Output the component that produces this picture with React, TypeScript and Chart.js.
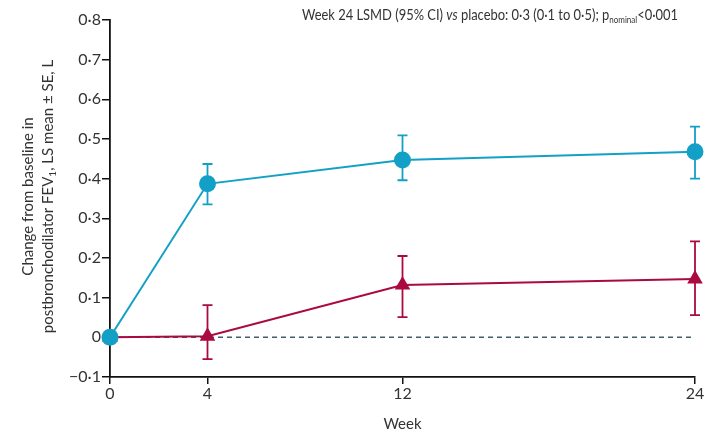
import React, { useEffect, useRef } from 'react';
import { Chart, registerables } from 'chart.js';

Chart.register(...registerables);

// ---- data ----
const weeks = [0, 4, 12, 24];
const xTicks = [0, 4, 12, 24];
const yTicks = [-0.1, 0, 0.1, 0.2, 0.3, 0.4, 0.5, 0.6, 0.7, 0.8];

const dupMean = [0, 0.387, 0.447, 0.468];
const dupUpper = [0, 0.437, 0.509, 0.531];
const dupLower = [0, 0.335, 0.396, 0.4];

const pboMean = [0, 0.003, 0.132, 0.147];
const pboUpper = [0.015, 0.081, 0.205, 0.242];
const pboLower = [-0.015, -0.055, 0.051, 0.056];

const zeroLine = [0, 0];
const zeroX = [0, 24];

const BLUE = '#12a0c6';
const RED = '#ab0a40';
const TEXT = '#333333';
const FONT = 'Lato, "Open Sans", sans-serif';

const fmt = (v: number) => {
  if (Math.abs(v) < 1e-9) return '0';
  const s = Math.abs(v).toFixed(1).replace('.', '·');
  return v < 0 ? '−' + s : s;
};

const errorBarPlugin = {
  id: 'errbars',
  beforeDatasetsDraw(chart: any) {
    const { ctx, scales } = chart;
    const x = scales.x;
    const y = scales.y;
    const draw = (lo: number[], hi: number[], color: string) => {
      ctx.save();
      ctx.strokeStyle = color;
      ctx.lineWidth = 1.8;
      weeks.forEach((w, i) => {
        if (hi[i] === lo[i]) return;
        const px = x.getPixelForValue(w);
        const t = y.getPixelForValue(hi[i]);
        const b = y.getPixelForValue(lo[i]);
        ctx.beginPath();
        ctx.moveTo(px, t);
        ctx.lineTo(px, b);
        ctx.moveTo(px - 5, t);
        ctx.lineTo(px + 5, t);
        ctx.moveTo(px - 5, b);
        ctx.lineTo(px + 5, b);
        ctx.stroke();
      });
      ctx.restore();
    };
    draw(pboLower, pboUpper, RED);
    draw(dupLower, dupUpper, BLUE);
  },
};

const textPlugin = {
  id: 'texts',
  afterDraw(chart: any) {
    const { ctx, chartArea } = chart;
    ctx.save();
    ctx.fillStyle = TEXT;
    ctx.textBaseline = 'alphabetic';
    ctx.textAlign = 'left';

    // annotation, fitted horizontally to the span it takes in the figure
    const segDefs: [string, string, number, number][] = [
      ['Week 24 LSMD (95% CI) ', '', 1, 0],
      ['vs', 'italic ', 1, 0],
      [' placebo: 0·3 (0·1 to 0·5); p', '', 1, 0],
      ['nominal', '', 0.62, 3],
      ['<0·001', '', 1, 0],
    ];
    const size = 15;
    let tot = 0;
    segDefs.forEach(([t, st, k]) => {
      ctx.font = `${st}${size * k}px ${FONT}`;
      tot += ctx.measureText(t).width;
    });
    const sx = Math.min(1, 376 / tot);
    ctx.save();
    ctx.translate(302, 20);
    ctx.scale(sx, 1);
    let cx = 0;
    segDefs.forEach(([t, st, k, dy]) => {
      ctx.font = `${st}${size * k}px ${FONT}`;
      ctx.fillText(t, cx, dy);
      cx += ctx.measureText(t).width;
    });
    ctx.restore();

    // y-axis title
    const big = `15px ${FONT}`;
    const small = `10px ${FONT}`;
    const cy = (chartArea.top + chartArea.bottom) / 2 - 2;
    ctx.translate(0, cy);
    ctx.rotate(-Math.PI / 2);
    ctx.font = big;
    ctx.textAlign = 'center';
    ctx.fillText('Change from baseline in', 0, 33);
    const l2: [string, string, number][] = [
      ['postbronchodilator FEV', big, 0],
      ['1', small, 3],
      [', LS mean ± SE, L', big, 0],
    ];
    ctx.textAlign = 'left';
    let w2 = 0;
    l2.forEach(([t, f]) => {
      ctx.font = f;
      w2 += ctx.measureText(t).width;
    });
    let lx = -w2 / 2;
    l2.forEach(([t, f, dy]) => {
      ctx.font = f;
      ctx.fillText(t, lx, 53 + dy);
      lx += ctx.measureText(t).width;
    });
    ctx.restore();
  },
};

export default function App() {
  const ref = useRef<HTMLCanvasElement | null>(null);
  useEffect(() => {
    if (!ref.current) return;
    const chart = new Chart(ref.current, {
      type: 'line',
      data: {
        datasets: [
          {
            label: 'Dupilumab',
            data: weeks.map((w, i) => ({ x: w, y: dupMean[i] })),
            borderColor: BLUE,
            backgroundColor: BLUE,
            pointBackgroundColor: BLUE,
            pointBorderColor: BLUE,
            pointStyle: 'circle',
            pointRadius: 8.5,
            pointBorderWidth: 0,
            borderWidth: 2,
            clip: false as any,
            order: 0,
          },
          {
            label: 'Placebo',
            data: weeks.map((w, i) => ({ x: w, y: pboMean[i] })),
            borderColor: RED,
            backgroundColor: RED,
            pointBackgroundColor: RED,
            pointBorderColor: RED,
            pointStyle: 'triangle',
            pointRadius: 9,
            pointBorderWidth: 0,
            borderWidth: 2,
            clip: false as any,
            order: 1,
          },
          {
            label: 'zero',
            data: zeroX.map((w, i) => ({ x: w, y: zeroLine[i] })),
            borderColor: '#3e5d6e',
            borderDash: [5, 4],
            borderWidth: 1.5,
            pointRadius: 0,
            order: 2,
          },
        ],
      },
      options: {
        responsive: false,
        animation: false,
        layout: { padding: { left: 0, right: 10, top: 20, bottom: 0 } },
        plugins: { legend: { display: false }, tooltip: { enabled: false } },
        scales: {
          x: {
            type: 'linear',
            min: 0,
            max: 24,
            afterBuildTicks: (s: any) => {
              s.ticks = xTicks.map((v) => ({ value: v }));
            },
            afterFit: (s: any) => {
              s.height = 57;
            },
            border: { display: true, color: '#111', width: 1.8 },
            grid: { display: true, drawOnChartArea: false, drawTicks: true, tickLength: 7, color: '#111', lineWidth: 1.5 },
            ticks: { color: TEXT, font: { family: FONT, size: 16 }, padding: 0, maxRotation: 0, callback: (v: any) => String(v) },
            title: { display: true, text: 'Week', color: TEXT, font: { family: FONT, size: 15 }, padding: { top: 0, bottom: 1 } },
          },
          y: {
            type: 'linear',
            min: -0.1,
            max: 0.8,
            afterBuildTicks: (s: any) => {
              s.ticks = yTicks.map((v) => ({ value: v }));
            },
            afterFit: (s: any) => {
              s.width = 110;
            },
            border: { display: true, color: '#111', width: 1.8 },
            grid: { display: true, drawOnChartArea: false, drawTicks: true, tickLength: 8, color: '#111', lineWidth: 1.5 },
            ticks: { color: TEXT, font: { family: FONT, size: 16 }, padding: 1, callback: (v: any) => fmt(Number(v)) },
          },
        },
      } as any,
      plugins: [errorBarPlugin, textPlugin],
    });
    return () => chart.destroy();
  }, []);
  return (
    <div style={{ position: 'fixed', left: 0, top: 0, width: 705, height: 434, background: '#fff' }}>
      <canvas ref={ref} width={705} height={434} style={{ display: 'block' }} />
    </div>
  );
}
